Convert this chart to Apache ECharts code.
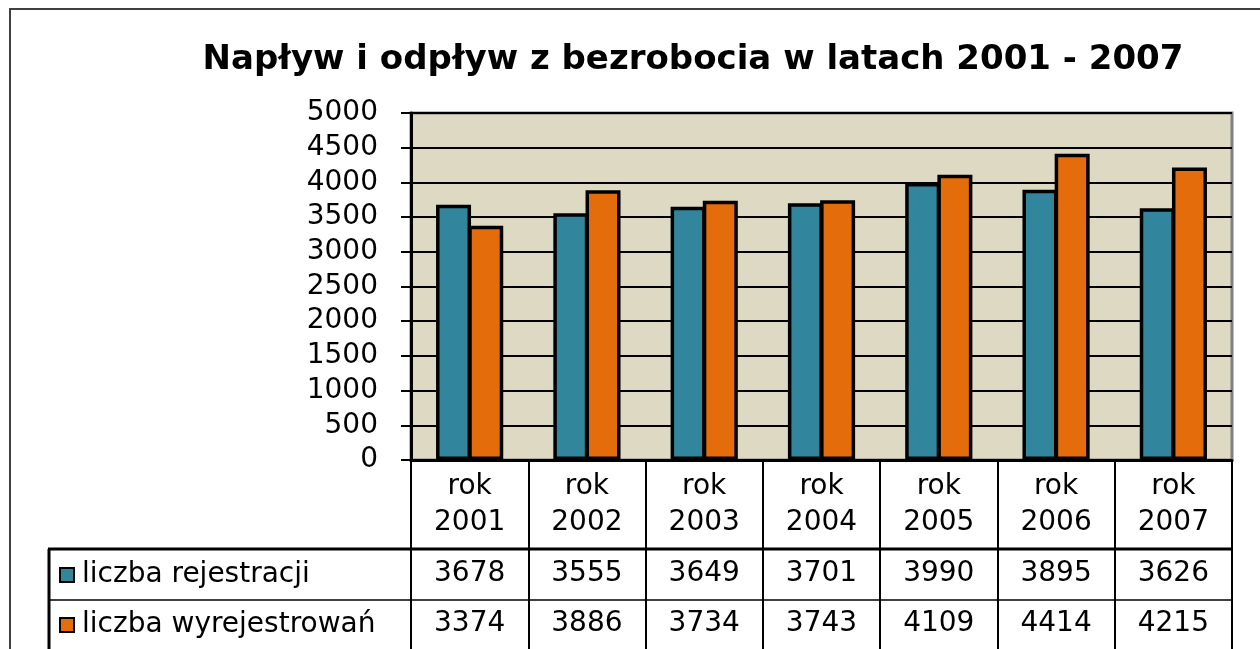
<!DOCTYPE html>
<html>
<head>
<meta charset="utf-8">
<script src="https://cdn.jsdelivr.net/npm/echarts@6/dist/echarts.min.js"></script>
<style>
html,body{margin:0;padding:0;background:#fff;}
#c{width:1260px;height:649px;}
</style>
</head>
<body>
<div id="c"></div>
<script>
const titleText = 'Napływ i odpływ z bezrobocia w latach 2001 - 2007';
const categories = ['rok\n2001', 'rok\n2002', 'rok\n2003', 'rok\n2004', 'rok\n2005', 'rok\n2006', 'rok\n2007'];
const seriesNames = ['liczba rejestracji', 'liczba wyrejestrowań'];
const rejestracje = [3678, 3555, 3649, 3701, 3990, 3895, 3626];
const wyrejestrowania = [3374, 3886, 3734, 3743, 4109, 4414, 4215];
const yTicks = { min: 0, max: 5000, interval: 500 };

const FONT = 'DejaVu Sans';
const chart = echarts.init(document.getElementById('c'), null, { renderer: 'canvas' });

const valueAxisCommon = {
  type: 'category',
  gridIndex: 0,
  position: 'bottom',
  axisLine: { show: false },
  axisTick: { show: false },
  splitLine: { show: false }
};

chart.setOption({
  backgroundColor: '#ffffff',
  animation: false,
  title: {
    text: titleText,
    left: 688,
    top: 38,
    textAlign: 'center',
    textStyle: { fontFamily: FONT, fontWeight: 'bold', fontSize: 34, color: '#000' }
  },
  legend: [
    {
      data: [seriesNames[0]], left: 59, top: 561, padding: 0, selectedMode: false,
      icon: 'rect', itemWidth: 14, itemHeight: 14,
      itemStyle: { borderColor: '#000', borderWidth: 2 },
      textStyle: { fontFamily: FONT, fontSize: 28, color: '#000', padding: [0, 0, 0, 3] }
    },
    {
      data: [seriesNames[1]], left: 59, top: 611, padding: 0, selectedMode: false,
      icon: 'rect', itemWidth: 14, itemHeight: 14,
      itemStyle: { borderColor: '#000', borderWidth: 2 },
      textStyle: { fontFamily: FONT, fontSize: 28, color: '#000', padding: [0, 0, 0, 3] }
    }
  ],
  grid: {
    left: 411, right: 28, top: 113, bottom: 189,
    show: true, backgroundColor: '#DDD9C3', borderColor: '#808080', borderWidth: 3
  },
  xAxis: [
    {
      type: 'category',
      data: categories,
      boundaryGap: true,
      axisLine: { show: true, lineStyle: { color: '#000', width: 3 } },
      axisTick: { show: true, length: 189, lineStyle: { color: '#000', width: 2 } },
      axisLabel: { margin: 9, fontFamily: FONT, fontSize: 28, lineHeight: 36, color: '#000', interval: 0 },
      splitLine: { show: false }
    },
    Object.assign({}, valueAxisCommon, {
      data: rejestracje.map(String),
      offset: 91,
      axisLabel: { margin: 9, fontFamily: FONT, fontSize: 28, color: '#000', interval: 0 }
    }),
    Object.assign({}, valueAxisCommon, {
      data: wyrejestrowania.map(String),
      offset: 141,
      axisLabel: { margin: 9, fontFamily: FONT, fontSize: 28, color: '#000', interval: 0 }
    })
  ],
  yAxis: {
    type: 'value',
    min: yTicks.min, max: yTicks.max, interval: yTicks.interval,
    axisLine: { show: true, lineStyle: { color: '#000', width: 3 } },
    axisTick: { show: true, length: 10, lineStyle: { color: '#000', width: 2 } },
    axisLabel: { margin: 33, fontFamily: FONT, fontSize: 28, color: '#000', formatter: function (v) { return String(v); } },
    splitLine: { show: true, lineStyle: { color: '#000', width: 2 } }
  },
  series: [
    {
      name: seriesNames[0], type: 'bar', xAxisIndex: 0, data: rejestracje,
      barWidth: 35, barGap: '-8%',
      itemStyle: { color: '#31859C', borderColor: '#000', borderWidth: 3.5 }
    },
    {
      name: seriesNames[1], type: 'bar', xAxisIndex: 0, data: wyrejestrowania,
      barWidth: 35, barGap: '-8%',
      itemStyle: { color: '#E46C0A', borderColor: '#000', borderWidth: 3.5 }
    }
  ],
  graphic: [
    { type: 'rect', shape: { x: 10, y: 9, width: 1400, height: 800 }, style: { fill: 'none', stroke: '#404040', lineWidth: 2 }, z: 100 },
    { type: 'line', shape: { x1: 48, y1: 549, x2: 1232, y2: 549 }, style: { stroke: '#000', lineWidth: 3 }, z: 100 },
    { type: 'line', shape: { x1: 48, y1: 600, x2: 1232, y2: 600 }, style: { stroke: '#000', lineWidth: 1.5 }, z: 100 },
    { type: 'line', shape: { x1: 49, y1: 549, x2: 49, y2: 660 }, style: { stroke: '#000', lineWidth: 3 }, z: 100 }
  ]
});
</script>
</body>
</html>
